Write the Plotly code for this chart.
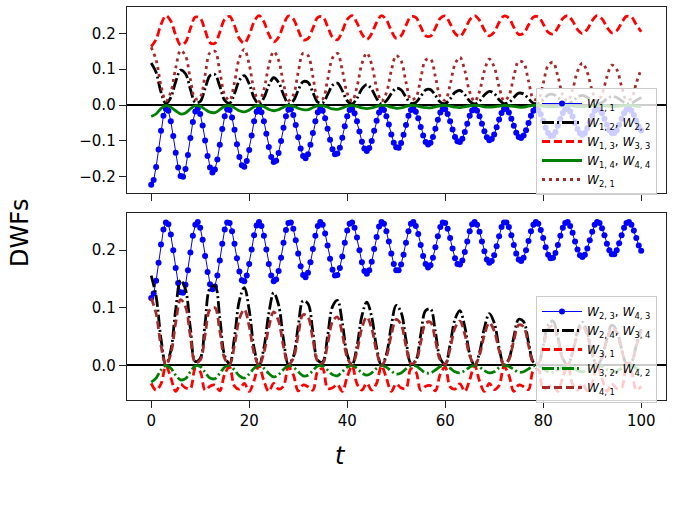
import plotly.graph_objects as go

# time grids
t_blue = [i * 0.5 for i in range(201)]   # marker series, step 0.5
t_line = list(range(101))                # line series, step 1

# ---------------- top panel ----------------
W11 = [-0.222, -0.209, -0.173, -0.124, -0.072, -0.030, -0.011, -0.016, -0.045, -0.086, -0.133, -0.174, -0.198,
       -0.200, -0.178, -0.139, -0.092, -0.047, -0.018, -0.010, -0.025, -0.057, -0.099, -0.142, -0.174, -0.188,
       -0.180, -0.152, -0.111, -0.067, -0.031, -0.012, -0.014, -0.035, -0.069, -0.109, -0.145, -0.168,
       -0.172, -0.156, -0.125, -0.085, -0.045, -0.019, -0.010, -0.020, -0.045, -0.080, -0.117, -0.145, -0.159,
       -0.155, -0.134, -0.100, -0.063, -0.031, -0.013, -0.012, -0.028, -0.056, -0.090, -0.121, -0.142,
       -0.148, -0.137, -0.111, -0.078, -0.045, -0.020, -0.010, -0.016, -0.037, -0.066, -0.097, -0.123, -0.137,
       -0.135, -0.119, -0.091, -0.059, -0.031, -0.014, -0.011, -0.023, -0.045, -0.074, -0.102, -0.121,
       -0.128, -0.120, -0.100, -0.072, -0.044, -0.021, -0.010, -0.014, -0.031, -0.054, -0.082, -0.105, -0.118,
       -0.119, -0.106, -0.083, -0.056, -0.030, -0.014, -0.010, -0.019, -0.037, -0.061, -0.085, -0.103, -0.110,
       -0.105, -0.089, -0.066, -0.041, -0.021, -0.011, -0.012, -0.025, -0.045, -0.068, -0.089, -0.101,
       -0.103, -0.094, -0.075, -0.052, -0.030, -0.015, -0.010, -0.016, -0.031, -0.052, -0.073, -0.090, -0.098,
       -0.095, -0.082, -0.062, -0.040, -0.022, -0.011, -0.011, -0.021, -0.038, -0.058, -0.077, -0.089,
       -0.092, -0.085, -0.070, -0.050, -0.030, -0.016, -0.010, -0.014, -0.026, -0.044, -0.063, -0.078, -0.086,
       -0.085, -0.075, -0.058, -0.039, -0.022, -0.012, -0.011, -0.018, -0.032, -0.050, -0.067, -0.079,
       -0.083, -0.078, -0.065, -0.048, -0.030, -0.016, -0.010, -0.013, -0.023, -0.038, -0.055, -0.070, -0.078,
       -0.078, -0.070, -0.055, -0.038, -0.023, -0.013, -0.010, -0.016, -0.028, -0.044, -0.060, -0.071]

W12_W22 = [0.117, 0.091, 0.036, 0.004, 0.021, 0.065, 0.097, 0.087, 0.044, 0.007,
           0.010, 0.046, 0.082, 0.085, 0.052, 0.013, 0.005, 0.032, 0.069, 0.082,
           0.059, 0.020, 0.003, 0.020, 0.055, 0.076, 0.063, 0.029, 0.004, 0.012,
           0.041, 0.065, 0.063, 0.035, 0.008, 0.006, 0.029, 0.055, 0.061, 0.040,
           0.012, 0.003, 0.019, 0.045, 0.057, 0.044, 0.018, 0.003, 0.012, 0.032,
           0.047, 0.042, 0.022, 0.005, 0.007, 0.024, 0.042, 0.043, 0.027, 0.008,
           0.004, 0.017, 0.035, 0.041, 0.029, 0.011, 0.003, 0.011, 0.028, 0.038,
           0.032, 0.015, 0.004, 0.007, 0.021, 0.033, 0.031, 0.018, 0.005, 0.005,
           0.015, 0.028, 0.030, 0.021, 0.007, 0.003, 0.010, 0.022, 0.027, 0.021,
           0.010, 0.003, 0.007, 0.017, 0.024, 0.021, 0.012, 0.004, 0.005, 0.013,
           0.021]

W13_W33 = [0.163, 0.183, 0.224, 0.249, 0.234, 0.195, 0.167, 0.175, 0.213, 0.245,
           0.242, 0.208, 0.174, 0.172, 0.203, 0.239, 0.247, 0.221, 0.185, 0.172,
           0.195, 0.232, 0.249, 0.232, 0.197, 0.176, 0.189, 0.223, 0.248, 0.240,
           0.209, 0.182, 0.185, 0.214, 0.244, 0.246, 0.219, 0.189, 0.182, 0.206,
           0.238, 0.249, 0.229, 0.198, 0.183, 0.199, 0.230, 0.249, 0.237, 0.207,
           0.186, 0.193, 0.222, 0.246, 0.244, 0.218, 0.193, 0.192, 0.215, 0.242,
           0.248, 0.227, 0.200, 0.191, 0.209, 0.237, 0.249, 0.236, 0.209, 0.193,
           0.203, 0.230, 0.248, 0.242, 0.217, 0.197, 0.200, 0.223, 0.245, 0.246,
           0.226, 0.203, 0.198, 0.216, 0.241, 0.249, 0.234, 0.210, 0.199, 0.211,
           0.235, 0.249, 0.240, 0.217, 0.201, 0.207, 0.229, 0.247, 0.245, 0.224,
           0.204]

W14_W44 = [-0.032, -0.025, -0.010, -0.001, -0.006, -0.016, -0.025, -0.022, -0.011, -0.002,
           -0.003, -0.012, -0.020, -0.021, -0.013, -0.003, -0.001, -0.008, -0.016, -0.019,
           -0.014, -0.005, -0.001, -0.005, -0.012, -0.016, -0.013, -0.006, -0.001, -0.003,
           -0.009, -0.013, -0.013, -0.007, -0.002, -0.002, -0.006, -0.011, -0.012, -0.008,
           -0.003, -0.001, -0.004, -0.008, -0.010, -0.008, -0.004, -0.001, -0.002, -0.006,
           -0.009, -0.008, -0.004, -0.001, -0.002, -0.005, -0.007, -0.008, -0.005, -0.002,
           -0.001, -0.003, -0.006, -0.007, -0.005, -0.002, -0.001, -0.002, -0.005, -0.006,
           -0.005, -0.003, -0.001, -0.002, -0.004, -0.006, -0.006, -0.003, -0.001, -0.001,
           -0.003, -0.005, -0.005, -0.004, -0.002, -0.001, -0.002, -0.004, -0.005, -0.004,
           -0.002, -0.001, -0.002, -0.003, -0.004, -0.004, -0.002, -0.001, -0.001, -0.003,
           -0.004]

W21 = [0.161, 0.126, 0.054, 0.011, 0.036, 0.103, 0.152, 0.137, 0.072, 0.017,
       0.022, 0.084, 0.146, 0.150, 0.094, 0.028, 0.013, 0.063, 0.131, 0.155,
       0.113, 0.042, 0.010, 0.043, 0.110, 0.149, 0.125, 0.060, 0.013, 0.028,
       0.091, 0.144, 0.138, 0.079, 0.020, 0.017, 0.070, 0.131, 0.144, 0.097,
       0.033, 0.011, 0.051, 0.115, 0.145, 0.113, 0.048, 0.011, 0.034, 0.095,
       0.138, 0.123, 0.064, 0.015, 0.021, 0.073, 0.125, 0.128, 0.079, 0.024,
       0.013, 0.056, 0.114, 0.133, 0.096, 0.036, 0.010, 0.038, 0.095, 0.128,
       0.106, 0.051, 0.012, 0.026, 0.079, 0.122, 0.117, 0.067, 0.018, 0.016,
       0.060, 0.110, 0.119, 0.080, 0.028, 0.011, 0.043, 0.094, 0.117, 0.091,
       0.040, 0.010, 0.030, 0.078, 0.111, 0.099, 0.052, 0.014, 0.019, 0.061,
       0.101]

# ---------------- bottom panel ----------------
W23_W43 = [0.117, 0.125, 0.147, 0.178, 0.210, 0.236, 0.248, 0.245, 0.227, 0.200, 0.169, 0.143, 0.127,
           0.126, 0.140, 0.165, 0.196, 0.225, 0.244, 0.249, 0.239, 0.218, 0.190, 0.162, 0.141, 0.132,
           0.137, 0.156, 0.182, 0.211, 0.236, 0.248, 0.247, 0.233, 0.211, 0.186, 0.163, 0.148,
           0.146, 0.156, 0.176, 0.201, 0.226, 0.243, 0.249, 0.242, 0.225, 0.201, 0.176, 0.156, 0.146,
           0.149, 0.164, 0.187, 0.213, 0.235, 0.247, 0.248, 0.237, 0.217, 0.194, 0.172, 0.157,
           0.153, 0.161, 0.179, 0.202, 0.225, 0.242, 0.249, 0.244, 0.229, 0.208, 0.185, 0.166, 0.156,
           0.157, 0.169, 0.189, 0.213, 0.234, 0.246, 0.248, 0.239, 0.222, 0.200, 0.179, 0.164,
           0.159, 0.165, 0.180, 0.202, 0.223, 0.241, 0.249, 0.246, 0.233, 0.215, 0.194, 0.176, 0.165,
           0.165, 0.175, 0.192, 0.213, 0.233, 0.246, 0.249, 0.242, 0.228, 0.209, 0.190, 0.176, 0.170,
           0.174, 0.187, 0.205, 0.224, 0.240, 0.248, 0.247, 0.237, 0.221, 0.203, 0.186, 0.176,
           0.175, 0.182, 0.197, 0.215, 0.233, 0.245, 0.249, 0.244, 0.232, 0.215, 0.198, 0.184, 0.178,
           0.181, 0.191, 0.207, 0.224, 0.240, 0.248, 0.248, 0.240, 0.226, 0.209, 0.194, 0.184,
           0.181, 0.187, 0.200, 0.216, 0.233, 0.244, 0.249, 0.246, 0.235, 0.221, 0.205, 0.192, 0.186,
           0.187, 0.195, 0.209, 0.225, 0.239, 0.247, 0.249, 0.242, 0.230, 0.215, 0.201, 0.191,
           0.188, 0.192, 0.203, 0.217, 0.232, 0.244, 0.249, 0.247, 0.238, 0.226, 0.211, 0.200, 0.193,
           0.193, 0.200, 0.212, 0.226, 0.239, 0.247, 0.249, 0.244, 0.234, 0.221, 0.208, 0.199]

W24_W34 = [0.156, 0.120, 0.046, 0.001, 0.026, 0.097, 0.148, 0.132, 0.064, 0.007,
           0.012, 0.073, 0.134, 0.138, 0.083, 0.017, 0.003, 0.049, 0.113, 0.135,
           0.096, 0.030, 0.000, 0.030, 0.090, 0.126, 0.105, 0.045, 0.002, 0.015,
           0.068, 0.112, 0.107, 0.058, 0.009, 0.006, 0.051, 0.102, 0.113, 0.074,
           0.019, 0.001, 0.033, 0.086, 0.110, 0.084, 0.031, 0.000, 0.019, 0.069,
           0.104, 0.092, 0.044, 0.004, 0.009, 0.053, 0.095, 0.098, 0.058, 0.012,
           0.002, 0.036, 0.080, 0.095, 0.067, 0.020, 0.000, 0.022, 0.065, 0.090,
           0.074, 0.031, 0.001, 0.011, 0.049, 0.080, 0.076, 0.040, 0.006, 0.004,
           0.035, 0.070, 0.077, 0.049, 0.012, 0.001, 0.023, 0.059, 0.075, 0.057,
           0.021, 0.000, 0.014, 0.047, 0.070, 0.061, 0.029, 0.003, 0.006, 0.035,
           0.063]

W31 = [-0.031, -0.043, -0.032, -0.001, -0.021, -0.045, -0.033, -0.039, -0.040, -0.006,
       -0.011, -0.043, -0.036, -0.034, -0.044, -0.015, -0.003, -0.036, -0.041, -0.031,
       -0.045, -0.026, 0.000, -0.027, -0.045, -0.031, -0.041, -0.036, -0.003, -0.016,
       -0.044, -0.034, -0.037, -0.043, -0.010, -0.006, -0.040, -0.039, -0.033, -0.045,
       -0.020, -0.001, -0.032, -0.043, -0.031, -0.043, -0.031, -0.001, -0.022, -0.045,
       -0.032, -0.039, -0.040, -0.006, -0.011, -0.043, -0.036, -0.035, -0.044, -0.015,
       -0.003, -0.037, -0.041, -0.032, -0.045, -0.025, 0.000, -0.027, -0.045, -0.031,
       -0.042, -0.035, -0.002, -0.017, -0.045, -0.034, -0.037, -0.042, -0.009, -0.007,
       -0.041, -0.038, -0.033, -0.045, -0.020, -0.001, -0.033, -0.043, -0.031, -0.044,
       -0.030, 0.000, -0.022, -0.045, -0.032, -0.040, -0.039, -0.005, -0.012, -0.043,
       -0.036]

W32_W42 = [-0.029, -0.022, -0.008, 0.000, -0.005, -0.017, -0.025, -0.023, -0.011, -0.001,
           -0.002, -0.012, -0.022, -0.023, -0.014, -0.003, 0.000, -0.008, -0.018, -0.022,
           -0.015, -0.005, 0.000, -0.005, -0.014, -0.020, -0.016, -0.007, 0.000, -0.003,
           -0.011, -0.018, -0.017, -0.009, -0.001, -0.001, -0.008, -0.016, -0.018, -0.011,
           -0.003, 0.000, -0.005, -0.013, -0.017, -0.013, -0.005, 0.000, -0.003, -0.010,
           -0.015, -0.013, -0.006, -0.001, -0.001, -0.007, -0.013, -0.013, -0.008, -0.002,
           0.000, -0.005, -0.011, -0.013, -0.009, -0.003, 0.000, -0.003, -0.009, -0.013,
           -0.011, -0.004, 0.000, -0.002, -0.007, -0.012, -0.011, -0.006, -0.001, -0.001,
           -0.005, -0.011, -0.012, -0.008, -0.002, 0.000, -0.003, -0.009, -0.011, -0.008,
           -0.003, 0.000, -0.002, -0.007, -0.011, -0.010, -0.005, 0.000, -0.001, -0.005,
           -0.009]

W41 = [0.117, 0.090, 0.034, 0.001, 0.020, 0.074, 0.114, 0.102, 0.050, 0.005,
       0.009, 0.053, 0.097, 0.100, 0.060, 0.012, 0.002, 0.035, 0.081, 0.097,
       0.068, 0.021, 0.000, 0.022, 0.066, 0.093, 0.077, 0.033, 0.002, 0.012,
       0.053, 0.088, 0.084, 0.045, 0.007, 0.004, 0.037, 0.076, 0.084, 0.055,
       0.014, 0.001, 0.025, 0.065, 0.084, 0.064, 0.024, 0.000, 0.015, 0.053,
       0.080, 0.071, 0.034, 0.003, 0.007, 0.040, 0.073, 0.075, 0.044, 0.009,
       0.002, 0.029, 0.065, 0.077, 0.054, 0.017, 0.000, 0.018, 0.053, 0.074,
       0.060, 0.026, 0.001, 0.010, 0.043, 0.070, 0.067, 0.035, 0.005, 0.004,
       0.032, 0.063, 0.069, 0.044, 0.011, 0.001, 0.021, 0.054, 0.069, 0.052,
       0.019, 0.000, 0.013, 0.044, 0.066, 0.058, 0.027, 0.003, 0.006, 0.034,
       0.061]

x_ticks = [0, 20, 40, 60, 80, 100]
top_yticks = [-0.2, -0.1, 0.0, 0.1, 0.2]
bot_yticks = [0.0, 0.1, 0.2]

FONT = "DejaVu Sans"
BLUE, BLACK, RED, GREEN, BROWN = "#0000ff", "#000000", "#ff0000", "#008000", "#a52a2a"


def lbl(*pairs):
    return ", ".join(f"<i>W</i><sub>{a}, {b}</sub>" for a, b in pairs)


fig = go.Figure()

# top panel
fig.add_trace(go.Scatter(x=t_blue, y=W11, mode="lines+markers", name=lbl((1, 1)),
                         line=dict(color=BLUE, width=1), marker=dict(color=BLUE, size=6),
                         xaxis="x", yaxis="y", legend="legend"))
fig.add_trace(go.Scatter(x=t_line, y=W12_W22, mode="lines", name=lbl((1, 2), (2, 2)),
                         line=dict(color=BLACK, width=2.8, dash="12px,3px,2px,3px", shape="spline"),
                         xaxis="x", yaxis="y", legend="legend"))
fig.add_trace(go.Scatter(x=t_line, y=W13_W33, mode="lines", name=lbl((1, 3), (3, 3)),
                         line=dict(color=RED, width=2.8, dash="8px,4px", shape="spline"),
                         xaxis="x", yaxis="y", legend="legend"))
fig.add_trace(go.Scatter(x=t_line, y=W14_W44, mode="lines", name=lbl((1, 4), (4, 4)),
                         line=dict(color=GREEN, width=2.8, shape="spline"),
                         xaxis="x", yaxis="y", legend="legend"))
fig.add_trace(go.Scatter(x=t_line, y=W21, mode="lines", name=lbl((2, 1)),
                         line=dict(color=BROWN, width=2.8, dash="3px,4px", shape="spline"),
                         xaxis="x", yaxis="y", legend="legend"))

# bottom panel
fig.add_trace(go.Scatter(x=t_blue, y=W23_W43, mode="lines+markers", name=lbl((2, 3), (4, 3)),
                         line=dict(color=BLUE, width=1), marker=dict(color=BLUE, size=6),
                         xaxis="x2", yaxis="y2", legend="legend2"))
fig.add_trace(go.Scatter(x=t_line, y=W24_W34, mode="lines", name=lbl((2, 4), (3, 4)),
                         line=dict(color=BLACK, width=2.8, dash="12px,3px,2px,3px", shape="spline"),
                         xaxis="x2", yaxis="y2", legend="legend2"))
fig.add_trace(go.Scatter(x=t_line, y=W31, mode="lines", name=lbl((3, 1)),
                         line=dict(color=RED, width=2.8, dash="8px,4px", shape="spline"),
                         xaxis="x2", yaxis="y2", legend="legend2"))
fig.add_trace(go.Scatter(x=t_line, y=W32_W42, mode="lines", name=lbl((3, 2), (4, 2)),
                         line=dict(color=GREEN, width=2.8, dash="12px,3px,2px,3px", shape="spline"),
                         xaxis="x2", yaxis="y2", legend="legend2"))
fig.add_trace(go.Scatter(x=t_line, y=W41, mode="lines", name=lbl((4, 1)),
                         line=dict(color=BROWN, width=2.8, dash="8px,4px", shape="spline"),
                         xaxis="x2", yaxis="y2", legend="legend2"))

W, H = 673, 506
x_dom = [126.7 / W, 665.7 / W]
top_dom = [1 - 193.3 / H, 1 - 6.7 / H]
bot_dom = [1 - 400.0 / H, 1 - 212.7 / H]

axis_common = dict(showline=True, mirror=True, linecolor="#222222", linewidth=1,
                   ticks="outside", ticklen=7, tickwidth=1, tickcolor="#222222",
                   showgrid=False, tickfont=dict(family=FONT, size=15, color="black"))

legend_common = dict(bgcolor="rgba(255,255,255,0.8)", bordercolor="#cccccc", borderwidth=1,
                     font=dict(family=FONT, size=12, color="black"), xanchor="right", yanchor="top",
                     itemwidth=40, tracegroupgap=0)

fig.update_layout(
    width=W, height=H, autosize=False,
    margin=dict(l=0, r=0, t=0, b=0),
    paper_bgcolor="white", plot_bgcolor="white",
    showlegend=True,
    xaxis=dict(domain=x_dom, anchor="y", range=[-5, 105], tickvals=x_ticks,
               showticklabels=False, zeroline=False, **axis_common),
    yaxis=dict(domain=top_dom, anchor="x", range=[-0.246, 0.274], tickvals=top_yticks,
               tickformat=".1f", zeroline=True, zerolinecolor="black", zerolinewidth=1.5,
               **axis_common),
    xaxis2=dict(domain=x_dom, anchor="y2", range=[-5, 105], tickvals=x_ticks,
                zeroline=False, **axis_common),
    yaxis2=dict(domain=bot_dom, anchor="x2", range=[-0.060, 0.265], tickvals=bot_yticks,
                tickformat=".1f", zeroline=True, zerolinecolor="black", zerolinewidth=1.5,
                **axis_common),
    legend=dict(x=657 / W, y=1 - 88 / H, **legend_common),
    legend2=dict(x=657 / W, y=1 - 296 / H, **legend_common),
    annotations=[
        dict(text="DWFs", x=20 / W, y=1 - 233 / H, xref="paper", yref="paper",
             textangle=-90, showarrow=False, font=dict(family=FONT, size=24, color="black"),
             xanchor="center", yanchor="middle"),
        dict(text="<i>t</i>", x=340 / W, y=1 - 456 / H, xref="paper", yref="paper",
             showarrow=False, font=dict(family=FONT, size=24, color="black"),
             xanchor="center", yanchor="middle"),
    ],
)

fig.write_html("out.html")
